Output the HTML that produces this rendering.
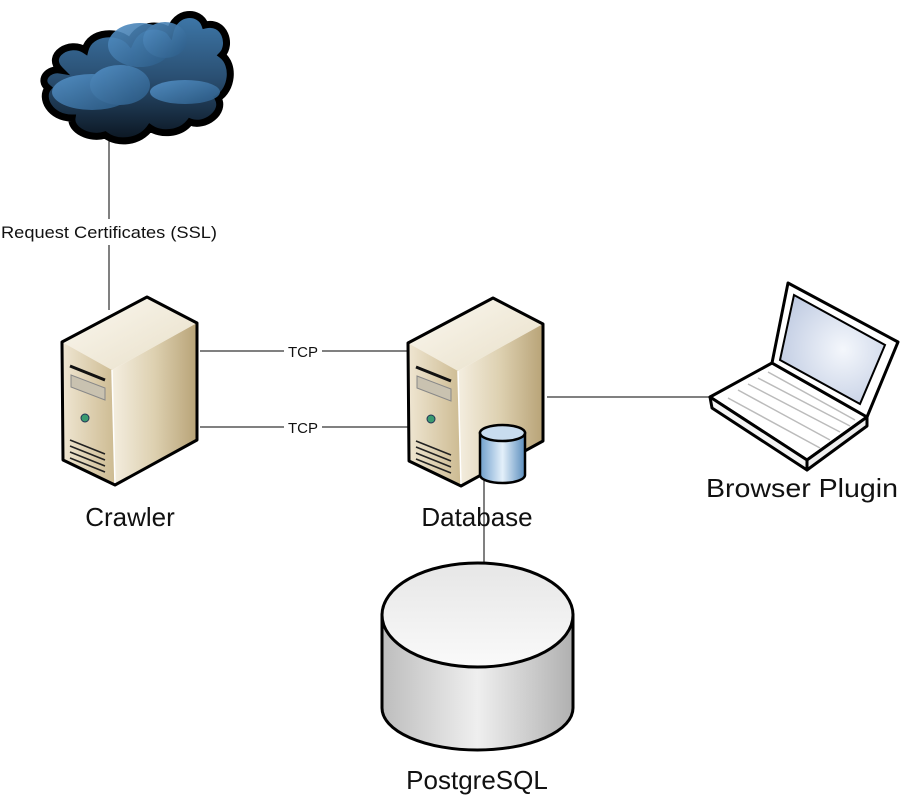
<!DOCTYPE html>
<html><head><meta charset="utf-8"><style>
html,body{margin:0;padding:0;background:#fff;}
svg{display:block;}
text{font-family:"Liberation Sans",sans-serif;fill:#111;}
</style></head><body>
<svg width="900" height="800" viewBox="0 0 900 800" xmlns="http://www.w3.org/2000/svg">
<defs>
<linearGradient id="cl" x1="0" y1="0" x2="0" y2="1">
<stop offset="0" stop-color="#3e78aa"/><stop offset="0.5" stop-color="#2a4f72"/><stop offset="1" stop-color="#0b1520"/></linearGradient>
<linearGradient id="cl2" x1="0" y1="0" x2="1" y2="1">
<stop offset="0" stop-color="#5592c8"/><stop offset="1" stop-color="#2b5a84"/></linearGradient>
<linearGradient id="sf" x1="0" y1="0" x2="1" y2="0">
<stop offset="0" stop-color="#efe6d2"/><stop offset="1" stop-color="#cdbb92"/></linearGradient>
<linearGradient id="sr" x1="0" y1="0" x2="1" y2="0">
<stop offset="0" stop-color="#f4eee0"/><stop offset="0.5" stop-color="#ddd0b0"/><stop offset="1" stop-color="#b8a377"/></linearGradient>
<linearGradient id="st" x1="0" y1="0" x2="1" y2="1">
<stop offset="0" stop-color="#fbf8f0"/><stop offset="1" stop-color="#e8dfc8"/></linearGradient>
<linearGradient id="cy" x1="0" y1="0" x2="1" y2="0">
<stop offset="0" stop-color="#6f9fcc"/><stop offset="0.5" stop-color="#e4f0fa"/><stop offset="1" stop-color="#5a8dbd"/></linearGradient>
<linearGradient id="pg" x1="0" y1="0" x2="1" y2="0">
<stop offset="0" stop-color="#bdbdbd"/><stop offset="0.5" stop-color="#efefef"/><stop offset="1" stop-color="#b0b0b0"/></linearGradient>
<linearGradient id="pgt" x1="0" y1="0" x2="0" y2="1">
<stop offset="0" stop-color="#e6e6e6"/><stop offset="1" stop-color="#fafafa"/></linearGradient>
<radialGradient id="scr" cx="0.6" cy="0.5" r="0.7">
<stop offset="0" stop-color="#f4f7fc"/><stop offset="1" stop-color="#bcc8e0"/></radialGradient>
<g id="server">
<polygon points="62,342 147,297 197,323 112,370" fill="url(#st)"/>
<polygon points="62,342 112,370 115,485 63,460" fill="url(#sf)"/>
<polygon points="112,370 197,323 197,440 115,485" fill="url(#sr)"/>
<polyline points="112,370 115,485" stroke="#fff" stroke-width="1.5" fill="none"/>
<polygon points="62,342 147,297 197,323 197,440 115,485 63,460" fill="none" stroke="#000" stroke-width="3" stroke-linejoin="round"/>
<path d="M70,366 L105,380" stroke="#111" stroke-width="3"/>
<polygon points="71,375 105,388 105,400 71,387" fill="#c9c2b0" stroke="#888" stroke-width="1"/>
<circle cx="85" cy="418" r="4" fill="#3a9a70" stroke="#235" stroke-width="1"/>
<path d="M70,440 L105,454 M70,446 L105,460 M70,452 L105,466 M70,458 L105,472" stroke="#222" stroke-width="1.6"/>
</g>
</defs>

<line x1="109" y1="140" x2="109" y2="219" stroke="#000" stroke-width="1"/>
<line x1="109" y1="245" x2="109" y2="310" stroke="#000" stroke-width="1"/>
<line x1="200" y1="351" x2="284" y2="351" stroke="#000"/>
<line x1="322" y1="351" x2="409" y2="351" stroke="#000"/>
<line x1="200" y1="427" x2="284" y2="427" stroke="#000"/>
<line x1="322" y1="427" x2="409" y2="427" stroke="#000"/>
<line x1="547" y1="397" x2="712" y2="397" stroke="#000"/>
<line x1="484" y1="480" x2="484" y2="566" stroke="#000"/>

<g stroke="#000" stroke-width="7" fill="url(#cl)">
<path d="M60,70 C45,55 70,40 85,50 C90,30 120,30 130,42 C140,20 165,25 170,32 C175,10 200,10 205,25 C225,20 232,45 222,55 C235,65 232,90 218,98 C226,112 205,128 190,122 C180,135 160,135 150,128 C140,142 118,145 105,135 C90,140 70,130 72,118 C50,118 40,98 48,88 C38,80 48,68 60,70 Z"/>
</g>
<g fill="url(#cl2)" opacity="0.9">
<ellipse cx="140" cy="45" rx="32" ry="22"/>
<ellipse cx="165" cy="40" rx="22" ry="18"/>
<ellipse cx="92" cy="92" rx="40" ry="18"/>
<ellipse cx="120" cy="85" rx="30" ry="20"/>
<ellipse cx="185" cy="92" rx="35" ry="12"/>
</g>
<text x="109" y="238" font-size="17" text-anchor="middle" textLength="216" lengthAdjust="spacingAndGlyphs">Request Certificates (SSL)</text>

<use href="#server"/>
<use href="#server" transform="translate(346,1)"/>

<path d="M480,433 L480,475 A22.5,8 0 0 0 525,475 L525,433 Z" fill="url(#cy)" stroke="#000" stroke-width="2.5"/>
<ellipse cx="502.5" cy="433" rx="22.5" ry="8" fill="#c8dcef" stroke="#000" stroke-width="2.5"/>

<path d="M382,615 L382,708 A95.5,42 0 0 0 573,708 L573,615 Z" fill="url(#pg)" stroke="#000" stroke-width="3"/>
<ellipse cx="477.5" cy="615" rx="95.5" ry="52" fill="url(#pgt)" stroke="#000" stroke-width="3"/>

<polygon points="710,397 772,363 867,417 807,460" fill="#fff" stroke="#000" stroke-width="3" stroke-linejoin="round"/>
<polygon points="710,397 807,460 807,470 712,408" fill="#f4f4f4" stroke="#000" stroke-width="3" stroke-linejoin="round"/>
<polygon points="807,460 867,417 867,426 807,470" fill="#eee" stroke="#000" stroke-width="3" stroke-linejoin="round"/>
<polygon points="772,363 788,283 898,342 867,417" fill="#fff" stroke="#000" stroke-width="3" stroke-linejoin="round"/>
<polygon points="780,360 794,295 885,345 860,404" fill="url(#scr)" stroke="#000" stroke-width="2"/>
<g stroke="#bbb" stroke-width="1.5" fill="none">
<path d="M728,398 L820,448 M738,390 L830,440 M748,384 L840,432 M758,378 L850,426 M768,372 L855,420"/>
</g>

<text x="303" y="357" font-size="15" text-anchor="middle">TCP</text>
<text x="303" y="433" font-size="15" text-anchor="middle">TCP</text>
<text x="130" y="526" font-size="26" text-anchor="middle">Crawler</text>
<text x="477" y="526" font-size="26" text-anchor="middle">Database</text>
<text x="802" y="497" font-size="26" text-anchor="middle" textLength="192" lengthAdjust="spacingAndGlyphs">Browser Plugin</text>
<text x="477" y="789" font-size="26" text-anchor="middle">PostgreSQL</text>
</svg>
</body></html>
